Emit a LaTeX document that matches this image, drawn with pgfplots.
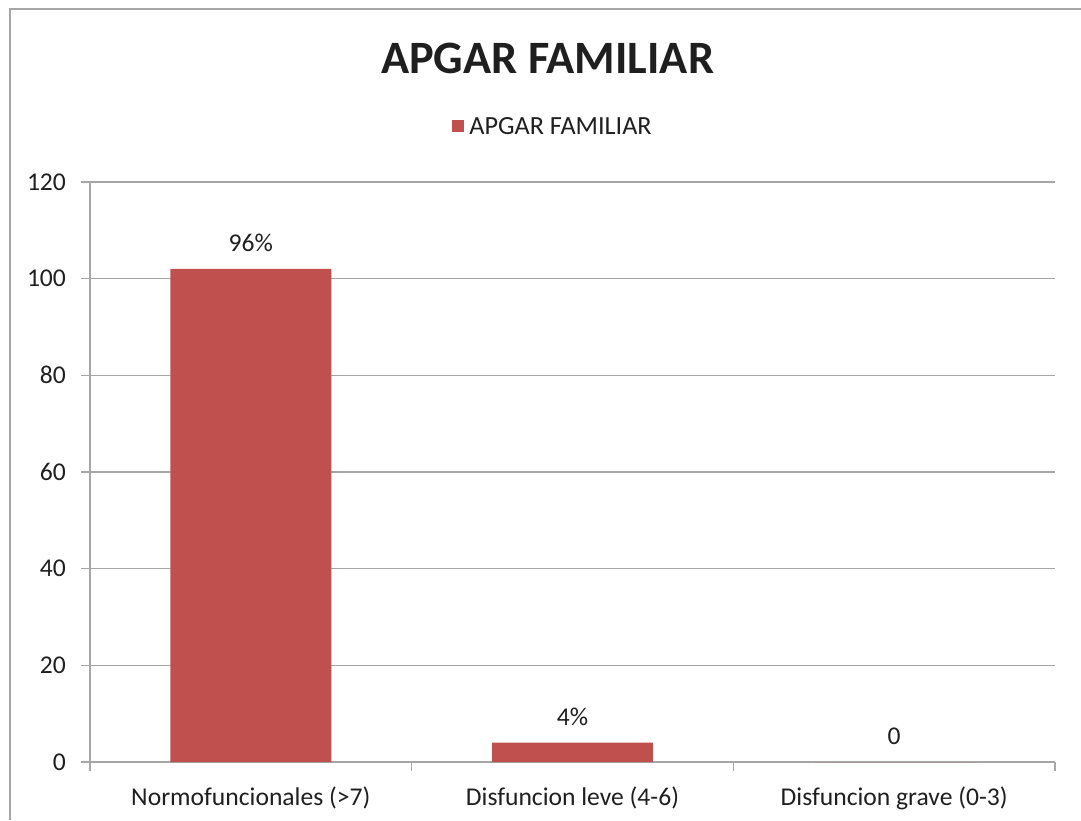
\documentclass[border=0pt]{standalone}
\usepackage{pgfplots}
\pgfplotsset{compat=1.18}
\usepackage{fontspec}
\setmainfont{Carlito}
\definecolor{barred}{HTML}{C0504D}
\definecolor{gridgray}{HTML}{A6A6A6}
\definecolor{txt}{HTML}{1F1F1F}
\begin{document}
\begin{tikzpicture}[x=1pt,y=1pt]
% bounding box: 1081x820 px at 0.5pt/px
\path[use as bounding box] (0,0) rectangle (540.5,410);
% chart border (left and top)
\draw[gridgray, line width=0.8pt] (5,0) -- (5,405.5) -- (540.5,405.5);
% title
\node[font=\bfseries\fontsize{23.2}{27}\selectfont, text=txt] at (273.8,381) {APGAR FAMILIAR};
% legend
\fill[barred] (226,344) rectangle (232,350);
\node[anchor=west, font=\fontsize{13.1}{15}\selectfont, text=txt, inner sep=0pt] at (234.5,347) {APGAR FAMILIAR};
\begin{axis}[
  at={(45pt,29pt)}, anchor=south west, scale only axis,
  width=482.5pt, height=290pt,
  xmin=-0.5, xmax=2.5, ymin=0, ymax=120,
  ytick={0,20,...,120},
  xtick={-0.5,0.5,1.5,2.5},
  xticklabels={},
  extra x ticks={0,1,2},
  extra x tick labels={Normofuncionales (>7),Disfuncion leve (4-6),Disfuncion grave (0-3)},
  extra x tick style={major tick length=0pt, grid=none},
  ymajorgrids, grid style={gridgray, line width=0.8pt},
  axis x line*=bottom, axis y line*=left,
  axis line style={gridgray, line width=0.8pt, -},
  tick style={gridgray, line width=0.8pt},
  tick align=outside, major tick length=4.5pt,
  tick label style={font=\fontsize{12.8}{15}\selectfont, text=txt},
  /pgf/number format/assume math mode=true,
  yticklabel style={xshift=-4pt},
  xticklabel style={yshift=-9pt},
  ybar, bar width=0.5,
  nodes near coords,
  point meta=explicit symbolic,
  every node near coord/.append style={font=\fontsize{12.8}{15}\selectfont, text=txt, yshift=5pt},
  clip=false,
]
\addplot[fill=barred, draw=none] coordinates {(0,102) [96\%] (1,4) [4\%] (2,0) [0]};
\end{axis}
\end{tikzpicture}
\end{document}
